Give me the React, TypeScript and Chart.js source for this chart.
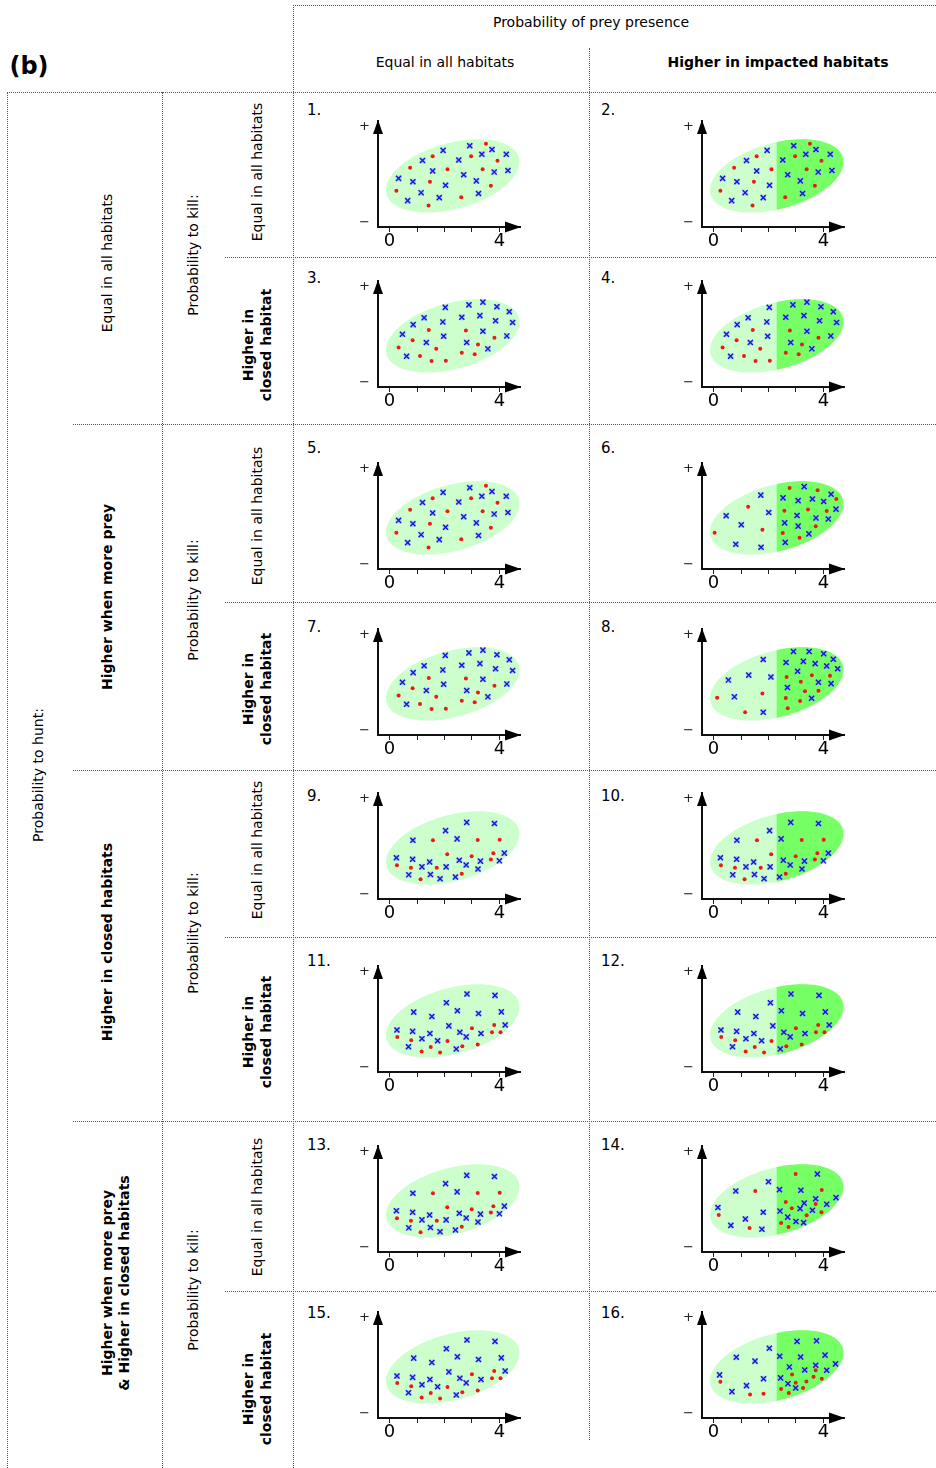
import React, { useEffect, useRef } from 'react';
import { Chart, registerables } from 'chart.js';

Chart.register(...registerables);

type P = [number, number];

// ---------- tick labels ----------
const X_TICK_VALUES = [0, 1, 2, 3, 4];
const X_TICK_LABELS: Record<number, string> = { 0: '0', 4: '4' };
const Y_TICK_VALUES = [0.15, 3.66];
const Y_TICK_LABELS = ['−', '+'];

// ---------- point data (x in units 0..4, y in same units above the x axis) ----------
const S1_RED: P[] = [[3.51,3.03],[1.57,2.58],[2.97,2.58],[3.93,2.41],[0.75,2.16],[2.11,2.10],[3.39,2.10],[1.47,1.65],[3.69,1.50],[0.25,1.32],[2.61,1.08],[1.42,0.78]];
const S1_BLUE: P[] = [[2.92,2.96],[3.73,2.82],[1.95,2.79],[3.36,2.65],[4.25,2.65],[1.20,2.42],[2.52,2.44],[1.57,2.04],[3.81,2.00],[4.31,2.06],[0.33,1.77],[2.70,1.90],[0.85,1.65],[3.16,1.68],[2.04,1.52],[1.15,1.25],[3.24,1.22],[0.66,0.96],[1.81,1.07]];

const S3_RED: P[] = [[1.43,2.08],[0.84,1.70],[0.33,1.44],[1.70,1.39],[1.11,1.13],[1.53,0.95],[2.05,0.96],[2.78,2.06],[3.82,1.79],[3.22,1.55],[2.63,1.25],[3.10,1.19]];
const S3_BLUE: P[] = [[2.03,2.90],[2.89,2.99],[3.40,3.09],[3.91,2.92],[4.36,2.74],[1.26,2.52],[2.63,2.54],[3.29,2.60],[3.86,2.41],[4.48,2.35],[0.86,2.27],[1.94,2.37],[0.47,1.92],[1.97,1.85],[3.40,2.03],[4.27,1.86],[1.34,1.62],[2.81,1.62],[3.58,1.39],[0.62,1.12]];

const S6_RED: P[] = [[2.77,2.95],[3.79,2.87],[1.26,2.27],[4.47,2.55],[2.58,2.12],[3.44,2.17],[4.12,2.11],[0.04,1.32],[1.78,1.43],[3.72,1.56],[2.52,1.31],[3.13,1.14]];
const S6_BLUE: P[] = [[3.30,3.00],[1.72,2.69],[4.28,2.72],[2.53,2.59],[3.08,2.49],[3.60,2.55],[4.01,2.46],[0.46,1.94],[2.01,2.06],[3.04,1.95],[3.73,1.86],[4.46,2.18],[4.18,1.82],[1.01,1.61],[2.59,1.68],[3.08,1.56],[3.47,1.28],[0.81,0.90],[1.73,0.79],[2.61,0.97]];

const S8_RED: P[] = [[0.13,1.36],[1.15,0.83],[1.78,1.51],[2.66,2.11],[3.18,1.94],[3.58,2.18],[4.24,2.16],[3.33,1.59],[3.82,1.61],[2.63,1.35],[3.15,1.24],[2.70,0.97]];
const S8_BLUE: P[] = [[2.91,3.04],[3.48,3.04],[4.01,2.96],[4.36,2.76],[1.81,2.75],[2.64,2.64],[3.27,2.68],[3.70,2.60],[4.12,2.51],[4.52,2.41],[3.06,2.32],[0.54,2.00],[1.28,2.18],[2.09,2.11],[2.69,1.73],[3.82,1.92],[4.28,1.87],[0.76,1.39],[3.57,1.34],[1.81,0.83]];

const S9_RED: P[] = [[1.58,2.14],[3.21,2.15],[4.01,2.16],[2.10,1.63],[2.99,1.56],[3.78,1.67],[0.27,1.23],[0.78,1.14],[1.72,1.14],[3.69,1.44],[2.63,0.92],[1.13,0.72]];
const S9_BLUE: P[] = [[2.81,2.79],[3.82,2.75],[2.04,2.49],[0.85,2.14],[2.46,2.19],[0.25,1.50],[0.84,1.45],[1.46,1.35],[2.54,1.41],[3.31,1.38],[4.18,1.67],[4.00,1.39],[1.18,1.17],[2.06,1.17],[2.79,1.24],[3.22,1.09],[0.70,0.88],[1.49,0.89],[1.84,0.74],[2.40,0.80]];

const S11_RED: P[] = [[0.28,1.27],[0.79,1.16],[1.17,0.75],[1.50,0.91],[1.84,0.71],[2.11,1.13],[2.65,0.94],[3.00,1.59],[3.21,1.00],[3.81,1.71],[3.73,1.45],[4.04,1.45]];
const S11_BLUE: P[] = [[2.82,2.84],[3.84,2.79],[2.07,2.52],[0.88,2.18],[1.54,2.02],[2.47,2.23],[3.24,2.13],[4.07,2.19],[0.27,1.53],[0.84,1.48],[2.16,1.68],[1.47,1.40],[2.56,1.45],[2.79,1.28],[3.33,1.40],[4.21,1.71],[1.18,1.21],[1.75,1.14],[0.69,0.92],[2.43,0.84]];

const S14_RED: P[] = [[2.99,2.84],[3.94,2.26],[1.52,2.22],[2.63,1.82],[3.72,1.75],[2.85,1.59],[0.19,1.35],[3.39,1.34],[3.93,1.45],[2.46,1.06],[1.31,0.87],[2.73,0.91]];
const S14_BLUE: P[] = [[3.78,2.84],[2.00,2.56],[2.40,2.27],[3.18,2.25],[0.81,2.22],[3.72,1.94],[3.30,1.78],[4.12,1.74],[4.46,1.98],[0.16,1.62],[1.81,1.45],[2.42,1.49],[3.15,1.58],[3.60,1.52],[2.70,1.27],[1.16,1.20],[3.00,1.11],[3.28,1.07],[0.63,0.97],[1.76,0.83]];

const S16_RED: P[] = [[0.25,1.32],[1.33,0.86],[1.82,0.88],[2.86,1.58],[2.99,1.28],[3.38,1.33],[3.72,1.74],[3.64,1.50],[3.94,1.43],[2.46,1.06],[2.74,0.91],[3.26,1.09]];
const S16_BLUE: P[] = [[3.04,2.79],[3.75,2.81],[2.03,2.54],[0.83,2.21],[1.51,2.07],[2.41,2.25],[3.17,2.22],[4.06,2.29],[4.44,1.97],[0.22,1.57],[2.76,1.86],[3.32,1.75],[3.72,1.92],[4.12,1.74],[1.82,1.43],[2.44,1.46],[2.71,1.25],[1.20,1.18],[2.99,1.09],[0.67,0.96]];

// panels: number, red points, blue points
const PANEL_NUMBERS = [1, 2, 3, 4, 5, 6, 7, 8, 9, 10, 11, 12, 13, 14, 15, 16];
const PANEL_RED: P[][] = [S1_RED, S1_RED, S3_RED, S3_RED, S1_RED, S6_RED, S3_RED, S8_RED, S9_RED, S9_RED, S11_RED, S11_RED, S9_RED, S14_RED, S11_RED, S16_RED];
const PANEL_BLUE: P[][] = [S1_BLUE, S1_BLUE, S3_BLUE, S3_BLUE, S1_BLUE, S6_BLUE, S3_BLUE, S8_BLUE, S9_BLUE, S9_BLUE, S11_BLUE, S11_BLUE, S9_BLUE, S14_BLUE, S11_BLUE, S16_BLUE];

// habitat ellipse (in axis units) and split between habitats
const ELLIPSE = { cx: 2.3, cy: 1.86, a: 2.5, b: 1.2, angleDeg: 15.5 };
const SPLIT_X = 2.3;

// ---------- text ----------
const TOP_HEADER = 'Probability of prey presence';
const COL_HEADERS = ['Equal in all habitats', 'Higher in impacted habitats'];
const HUNT_LABEL = 'Probability to hunt:';
const KILL_LABEL = 'Probability to kill:';
const GROUP_LABELS: string[][] = [
  ['Equal in all habitats'],
  ['Higher when more prey'],
  ['Higher in closed habitats'],
  ['Higher when more prey', '& Higher in closed habitats'],
];
const SUB_LABELS: string[][] = [['Equal in all habitats'], ['Higher in', 'closed habitat']];

// ---------- layout ----------
const FONT = '"DejaVu Sans", Verdana, sans-serif';
const UNIT = 27.5;
const X_MIN = -0.42;
const X_MAX = 4.75;
const Y_MAX = 3.86;
const Y_AXIS_W = 22;
const X_AXIS_H = 30;
const PAD_T = 10;
const PAD_R = 6;
const PLOT_W = Math.round((X_MAX - X_MIN) * UNIT);
const PLOT_H = Math.round(Y_MAX * UNIT);
const CW = Y_AXIS_W + PLOT_W + PAD_R;
const CH = PAD_T + PLOT_H + X_AXIS_H;
const COL_AXIS_X = [378, 702];
const ROW_AXIS_Y = [226.7, 386.7, 569.3, 735.3, 899, 1071.7, 1251.7, 1417.7];
const NUM_X = [307, 601];
const NUM_Y = [110, 278, 448, 627, 796, 961, 1145, 1313];
const GROUP_Y = [263, 597, 942, 1283];
const KILL_Y = [255, 600, 933, 1290];
const SUB_Y = [172, 345, 516, 689, 850, 1032, 1207, 1389];

const LIGHT_GREEN = '#ccffcc';
const DARK_GREEN = '#77ff66';
const RED = '#f01818';
const BLUE = '#1414dc';

const habitatPlugin = {
  id: 'habitat',
  beforeDatasetsDraw(chart: any, _args: any, opts: any) {
    const { ctx, scales } = chart;
    const xs = scales.x;
    const ys = scales.y;
    const th = (ELLIPSE.angleDeg * Math.PI) / 180;
    const c = Math.cos(th);
    const s = Math.sin(th);
    ctx.save();
    ctx.beginPath();
    for (let i = 0; i <= 120; i++) {
      const t = (i / 120) * Math.PI * 2;
      const u = ELLIPSE.a * Math.cos(t);
      const v = ELLIPSE.b * Math.sin(t);
      const px = xs.getPixelForValue(ELLIPSE.cx + u * c - v * s);
      const py = ys.getPixelForValue(ELLIPSE.cy + u * s + v * c);
      if (i === 0) ctx.moveTo(px, py);
      else ctx.lineTo(px, py);
    }
    ctx.closePath();
    ctx.fillStyle = LIGHT_GREEN;
    ctx.fill();
    if (opts && opts.impacted) {
      const sx = xs.getPixelForValue(SPLIT_X);
      ctx.clip();
      ctx.fillStyle = DARK_GREEN;
      ctx.fillRect(sx, 0, chart.width - sx, chart.height);
    }
    ctx.restore();
  },
  afterDraw(chart: any) {
    const { ctx, scales } = chart;
    const xs = scales.x;
    const ys = scales.y;
    const ox = xs.getPixelForValue(X_MIN);
    const oy = ys.getPixelForValue(0);
    const tipX = xs.getPixelForValue(X_MAX);
    const tipY = ys.getPixelForValue(Y_MAX);
    ctx.save();
    ctx.fillStyle = '#000';
    ctx.beginPath();
    ctx.moveTo(tipX + 1, oy);
    ctx.lineTo(tipX - 15, oy - 5.5);
    ctx.lineTo(tipX - 15, oy + 5.5);
    ctx.closePath();
    ctx.fill();
    ctx.beginPath();
    ctx.moveTo(ox, tipY - 1);
    ctx.lineTo(ox - 5, tipY + 13);
    ctx.lineTo(ox + 5, tipY + 13);
    ctx.closePath();
    ctx.fill();
    ctx.restore();
  },
};

function Panel({ idx }: { idx: number }) {
  const ref = useRef<HTMLCanvasElement>(null);
  const col = idx % 2;
  const row = Math.floor(idx / 2);
  const left = COL_AXIS_X[col] - Y_AXIS_W;
  const top = ROW_AXIS_Y[row] - PAD_T - PLOT_H;
  useEffect(() => {
    const red = PANEL_RED[idx].map(([x, y]) => ({ x, y }));
    const blue = PANEL_BLUE[idx].map(([x, y]) => ({ x, y }));
    const chart = new Chart(ref.current as HTMLCanvasElement, {
      type: 'scatter',
      data: {
        datasets: [
          { label: 'killed', data: red, pointStyle: 'circle', pointRadius: 2, backgroundColor: RED, borderColor: RED, borderWidth: 0 },
          { label: 'prey', data: blue, pointStyle: 'crossRot', pointRadius: 3.6, borderColor: BLUE, borderWidth: 1.4 },
          { label: 'prey halo', data: blue, pointStyle: 'rect', pointRadius: 4.2, backgroundColor: 'rgba(150,165,255,0.45)', borderWidth: 0 },
        ],
      },
      options: {
        animation: false,
        responsive: false,
        maintainAspectRatio: false,
        events: [],
        layout: { padding: { top: PAD_T, right: PAD_R, left: 0, bottom: 0 } },
        plugins: {
          legend: { display: false },
          tooltip: { enabled: false },
          habitat: { impacted: col === 1 },
        } as any,
        scales: {
          x: {
            type: 'linear',
            min: X_MIN,
            max: X_MAX,
            afterBuildTicks: (s: any) => { s.ticks = X_TICK_VALUES.map((v) => ({ value: v })); },
            afterFit: (s: any) => { s.height = X_AXIS_H; },
            ticks: {
              autoSkip: false,
              maxRotation: 0,
              padding: 0,
              color: '#000',
              font: { family: FONT, size: 18, lineHeight: 1 },
              callback: (v: any) => X_TICK_LABELS[v as number] ?? '',
            },
            grid: { display: true, drawOnChartArea: false, drawTicks: true, tickLength: 5, color: '#222', lineWidth: 1 },
            border: { display: true, color: '#111', width: 2 },
          },
          y: {
            type: 'linear',
            min: 0,
            max: Y_MAX,
            afterBuildTicks: (s: any) => { s.ticks = Y_TICK_VALUES.map((v) => ({ value: v })); },
            afterFit: (s: any) => { s.width = Y_AXIS_W; },
            ticks: {
              padding: 0,
              color: '#222',
              font: { family: FONT, size: 13 },
              callback: (_v: any, i: number) => Y_TICK_LABELS[i],
            },
            grid: { display: false },
            border: { display: true, color: '#111', width: 2 },
          },
        },
      },
      plugins: [habitatPlugin],
    });
    return () => chart.destroy();
  }, [idx, col]);
  return (
    <canvas
      ref={ref}
      width={CW}
      height={CH}
      style={{ position: 'absolute', left, top, width: CW, height: CH }}
    />
  );
}

const dotted = '1px dotted #555';

function HLine({ x1, x2, y }: { x1: number; x2: number; y: number }) {
  return <div style={{ position: 'absolute', left: x1, top: y, width: x2 - x1, height: 0, borderTop: dotted }} />;
}
function VLine({ x, y1, y2 }: { x: number; y1: number; y2: number }) {
  return <div style={{ position: 'absolute', left: x, top: y1, width: 0, height: y2 - y1, borderLeft: dotted }} />;
}
function CText({ x, y, text, bold, size }: { x: number; y: number; text: string; bold?: boolean; size?: number }) {
  return (
    <div style={{ position: 'absolute', left: x, top: y, transform: 'translate(-50%,-50%)', whiteSpace: 'nowrap', fontWeight: bold ? 'bold' : 'normal', fontSize: size ?? 14, lineHeight: 1.2 }}>
      {text}
    </div>
  );
}
function VText({ x, y, lines, bold, lh }: { x: number; y: number; lines: string[]; bold?: boolean; lh?: number }) {
  return (
    <div style={{ position: 'absolute', left: x, top: y, transform: 'translate(-50%,-50%) rotate(-90deg)', whiteSpace: 'nowrap', textAlign: 'center', fontWeight: bold ? 'bold' : 'normal', fontSize: 14, lineHeight: `${lh ?? 18}px` }}>
      {lines.map((l, i) => <div key={i}>{l}</div>)}
    </div>
  );
}

export default function App() {
  const groupTops = [92, 424, 770, 1121];
  const subTops = [257, 602, 937, 1291];
  return (
    <div style={{ position: 'absolute', left: 0, top: 0, width: 936, height: 1468, background: '#fff', fontFamily: FONT, color: '#000', overflow: 'hidden' }}>
      {/* grid lines */}
      <HLine x1={293} x2={936} y={5} />
      <VLine x={293} y1={5} y2={1468} />
      <VLine x={589} y1={48} y2={1440} />
      <HLine x1={7} x2={936} y={92} />
      <VLine x={7} y1={92} y2={1468} />
      <VLine x={162} y1={92} y2={1468} />
      {groupTops.slice(1).map((y) => <HLine key={'g' + y} x1={73} x2={936} y={y} />)}
      {subTops.map((y) => <HLine key={'s' + y} x1={225} x2={936} y={y} />)}

      {/* headers */}
      <CText x={29} y={66} text="(b)" bold size={24} />
      <CText x={591} y={22} text={TOP_HEADER} />
      <CText x={445} y={62} text={COL_HEADERS[0]} />
      <CText x={778} y={62} text={COL_HEADERS[1]} bold />

      {/* row labels */}
      <VText x={38} y={775} lines={[HUNT_LABEL]} />
      {GROUP_LABELS.map((lines, i) => (
        <VText key={'gl' + i} x={lines.length > 1 ? 115.5 : 107} y={GROUP_Y[i]} lines={lines} bold={i > 0} lh={17} />
      ))}
      {KILL_Y.map((y, i) => <VText key={'k' + i} x={193} y={y} lines={[KILL_LABEL]} />)}
      {SUB_Y.map((y, i) => {
        const lines = SUB_LABELS[i % 2];
        return <VText key={'sl' + i} x={i % 2 === 0 ? 257 : 256.5} y={y} lines={lines} bold={i % 2 === 1} />;
      })}

      {/* panel numbers */}
      {PANEL_NUMBERS.map((n, i) => (
        <div key={'n' + n} style={{ position: 'absolute', left: NUM_X[i % 2], top: NUM_Y[Math.floor(i / 2)] - 9, fontSize: 15, lineHeight: '18px' }}>
          {n}.
        </div>
      ))}

      {/* panels */}
      {PANEL_NUMBERS.map((_, i) => <Panel key={'p' + i} idx={i} />)}
    </div>
  );
}
